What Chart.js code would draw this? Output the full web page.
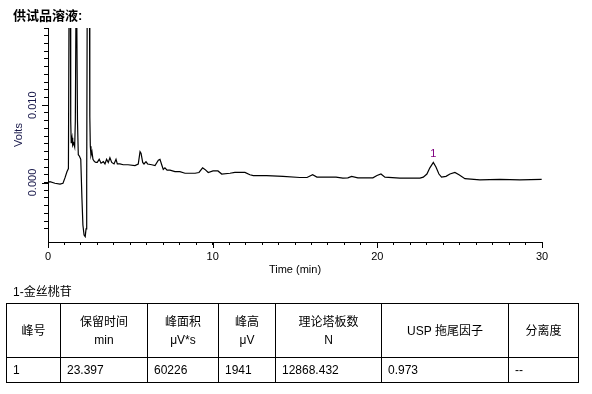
<!DOCTYPE html>
<html>
<head>
<meta charset="utf-8">
<script src="https://cdn.jsdelivr.net/npm/chart.js@4.4.1/dist/chart.umd.min.js"></script>
<style>
  html, body { margin: 0; padding: 0; background: #fff; width: 592px; height: 394px; overflow: hidden; }
  #wrap { position: absolute; left: 0; top: 0; width: 592px; height: 285px; }
  #title { position: absolute; left: 13px; top: 7px; font: bold 13px "Liberation Sans", "Noto Sans CJK SC", sans-serif; line-height: 17px; color: #000; }
  #cmp { position: absolute; left: 13px; top: 284px; font: 12px "Liberation Sans", "Noto Sans CJK SC", sans-serif; line-height: 16px; color: #000; }
  table { position: absolute; left: 6px; top: 303px; border-collapse: collapse; table-layout: fixed; width: 573px;
          font: 12px "Liberation Sans", "Noto Sans CJK SC", sans-serif; color: #000; }
  td { border: 1px solid #000; padding: 0; overflow: hidden; white-space: nowrap; }
  tr.h td { height: 53px; text-align: center; line-height: 18px; }
  tr.d td { height: 24px; text-align: left; padding-left: 6px; line-height: 16px; }
</style>
</head>
<body>
<div id="wrap"><canvas id="c" width="592" height="285"></canvas></div>
<div id="title">供试品溶液:</div>
<div id="cmp"></div>
<table id="tbl"><colgroup id="cols"></colgroup><tbody id="tb"></tbody></table>
<script>
// ---- chart data ----
const times = [
  0, 0.12, 0.42, 0.73, 0.91, 1.03, 1.15, 1.24, 1.29, 1.34,
  1.38, 1.41, 1.46, 1.50, 1.56, 1.62, 1.66, 1.72, 1.76, 1.79,
  1.84, 1.91, 1.99, 2.06, 2.12, 2.19, 2.26, 2.31, 2.35, 2.39,
  2.46, 2.51, 2.54, 2.57, 2.61, 2.67, 2.73, 2.82, 2.91, 2.99,
  3.11, 3.22, 3.36, 3.46, 3.56, 3.66, 3.76, 3.87, 4.01, 4.13,
  4.21, 4.37, 4.57, 4.86, 5.28, 5.48, 5.59, 5.65, 5.75, 5.83,
  5.95, 6.05, 6.30, 6.50, 6.70, 6.80, 6.92, 7.00, 7.10, 7.23,
  7.41, 7.71, 8.01, 8.32, 8.93, 9.17, 9.39, 9.53, 9.73, 10.02,
  10.32, 10.55, 11.05, 11.35, 11.96, 12.26, 12.47, 13.28, 14.27, 15.30,
  15.73, 16.07, 16.33, 17.49, 17.91, 18.21, 18.44, 18.82, 19.73, 19.98,
  20.22, 20.46, 21.37, 22.59, 22.79, 23.01, 23.19, 23.40, 23.56, 23.74,
  23.90, 24.17, 24.41, 24.71, 24.96, 25.32, 26.23, 27.44, 28.66, 29.98
];
const volts = [
  0, 0.0001, -0.0001, -0.0002, -0.0001, 0.0006, 0.0014, 0.0018, 0.030, 0.035,
  0.008, 0.0051, 0.0058, 0.0048, 0.0051, 0.0046, 0.008, 0.030, 0.030, 0.008,
  0.0036, 0.0034, 0.0030, -0.0020, -0.0055, -0.0068, -0.0070, -0.0060, -0.0001, 0.030,
  0.040, 0.030, 0.0085, 0.0047, 0.0035, 0.0040, 0.0030, 0.0027, 0.0026, 0.0026,
  0.0030, 0.0025, 0.0027, 0.0024, 0.0030, 0.0026, 0.0032, 0.0026, 0.0024, 0.0030,
  0.0024, 0.0024, 0.0023, 0.0023, 0.0022, 0.0024, 0.0040, 0.0038, 0.0026, 0.0024,
  0.0027, 0.0024, 0.0023, 0.0022, 0.0029, 0.0030, 0.0022, 0.0017, 0.0019, 0.0016,
  0.0016, 0.0014, 0.0014, 0.0012, 0.0012, 0.0013, 0.0019, 0.0017, 0.0013, 0.0015,
  0.0015, 0.0011, 0.0012, 0.0013, 0.0013, 0.0010, 0.0009, 0.0009, 0.0008, 0.00065,
  0.00065, 0.0010, 0.0007, 0.0007, 0.00058, 0.0006, 0.0008, 0.0006, 0.0006, 0.0009,
  0.0011, 0.0007, 0.00056, 0.00057, 0.0007, 0.0011, 0.0019, 0.0026, 0.0020, 0.0011,
  0.0007, 0.0008, 0.0011, 0.0013, 0.0010, 0.0005, 0.00035, 0.0004, 0.00035, 0.0004
];
const xMajorTicks = [0, 10, 20, 30];
const yMajorTicks = [0, 0.010];
const yMajorLabels = ['0.000', '0.010'];
const peakNames = ['1'];
const peakTimes = [23.40];
const peakVolts = [0.0026];

// ---- table data ----
const compoundLabel = '1-金丝桃苷';
const headerTop = ['峰号', '保留时间', '峰面积', '峰高', '理论塔板数', 'USP 拖尾因子', '分离度'];
const headerUnit = ['', 'min', 'μV*s', 'μV', 'N', '', ''];
const rowValues = ['1', '23.397', '60226', '1941', '12868.432', '0.973', '--'];
const colWidths = [54, 87, 71, 57, 106, 127, 70];

// build table
document.getElementById('cmp').textContent = compoundLabel;
const cols = document.getElementById('cols');
colWidths.forEach(w => { const c = document.createElement('col'); c.style.width = w + 'px'; cols.appendChild(c); });
const tb = document.getElementById('tb');
const trh = document.createElement('tr'); trh.className = 'h';
headerTop.forEach((h, i) => {
  const td = document.createElement('td');
  td.appendChild(document.createTextNode(h));
  if (headerUnit[i]) { td.appendChild(document.createElement('br')); td.appendChild(document.createTextNode(headerUnit[i])); }
  trh.appendChild(td);
});
tb.appendChild(trh);
const trd = document.createElement('tr'); trd.className = 'd';
rowValues.forEach(v => { const td = document.createElement('td'); td.textContent = v; trd.appendChild(td); });
tb.appendChild(trd);

// ---- chart ----
const pts = times.map((t, i) => ({ x: t, y: volts[i] }));
const near = (a, b) => Math.abs(a - b) < 1e-9;

const extras = {
  id: 'extras',
  afterDraw(chart) {
    const ctx = chart.ctx, xs = chart.scales.x, ys = chart.scales.y;
    ctx.save();
    ctx.strokeStyle = '#000';
    ctx.lineWidth = 1;
    ctx.beginPath();
    xMajorTicks.forEach(v => {
      const px = Math.round(xs.getPixelForValue(v)) + 0.5;
      ctx.moveTo(px, xs.top); ctx.lineTo(px, xs.top + 6);
    });
    yMajorTicks.forEach(v => {
      const py = Math.round(ys.getPixelForValue(v)) + 0.5;
      ctx.moveTo(ys.right - 6, py); ctx.lineTo(ys.right, py);
    });
    ctx.stroke();
    ctx.fillStyle = '#800080';
    ctx.font = '11px "Liberation Sans", Arial, sans-serif';
    ctx.textAlign = 'center';
    ctx.textBaseline = 'bottom';
    peakNames.forEach((n, i) => {
      ctx.fillText(n, xs.getPixelForValue(peakTimes[i]), ys.getPixelForValue(peakVolts[i]) - 3);
    });
    ctx.restore();
  }
};

new Chart(document.getElementById('c'), {
  type: 'line',
  data: {
    datasets: [{
      data: pts,
      borderColor: '#000',
      borderWidth: 1.2,
      pointRadius: 0,
      tension: 0,
      fill: false
    }]
  },
  options: {
    responsive: false,
    maintainAspectRatio: false,
    devicePixelRatio: 1,
    animation: false,
    parsing: false,
    layout: { padding: { left: 0, right: 50, top: 28, bottom: 0 } },
    plugins: { legend: { display: false }, tooltip: { enabled: false } },
    scales: {
      x: {
        type: 'linear', min: 0, max: 30, position: 'bottom',
        afterFit: s => { s.height = 43; },
        border: { display: true, color: '#000', width: 1 },
        grid: { display: true, drawOnChartArea: false, drawTicks: true, tickLength: 3, color: '#000', tickColor: '#000' },
        ticks: {
          stepSize: 1, autoSkip: false, maxRotation: 0, minRotation: 0, padding: 5, color: '#000',
          font: { family: '"Liberation Sans", Arial, sans-serif', size: 11 },
          callback: v => xMajorTicks.includes(v) ? String(v) : ''
        },
        title: { display: true, text: 'Time (min)', color: '#000',
          font: { family: '"Liberation Sans", Arial, sans-serif', size: 11 }, padding: { top: 0, bottom: 8 } }
      },
      y: {
        type: 'linear', min: -0.0077, max: 0.0200, position: 'left',
        afterFit: s => { s.width = 48; },
        afterBuildTicks: s => {
          s.ticks = s.ticks.filter(t => Math.abs(t.value / 0.001 - Math.round(t.value / 0.001)) < 1e-6);
        },
        border: { display: true, color: '#000', width: 1 },
        grid: { display: true, drawOnChartArea: false, drawTicks: true, tickLength: 4, color: '#000', tickColor: '#000' },
        ticks: {
          stepSize: 0.001, autoSkip: false, minRotation: 90, maxRotation: 90, crossAlign: 'center', padding: -3,
          color: '#18184a',
          font: { family: '"Liberation Sans", Arial, sans-serif', size: 11 },
          callback: v => { const k = yMajorTicks.findIndex(m => near(m, v)); return k >= 0 ? yMajorLabels[k] : ''; }
        },
        title: { display: true, text: 'Volts', color: '#18184a',
          font: { family: '"Liberation Sans", Arial, sans-serif', size: 11 }, padding: { top: 12, bottom: 0 } }
      }
    }
  },
  plugins: [extras]
});
</script>
</body>
</html>
